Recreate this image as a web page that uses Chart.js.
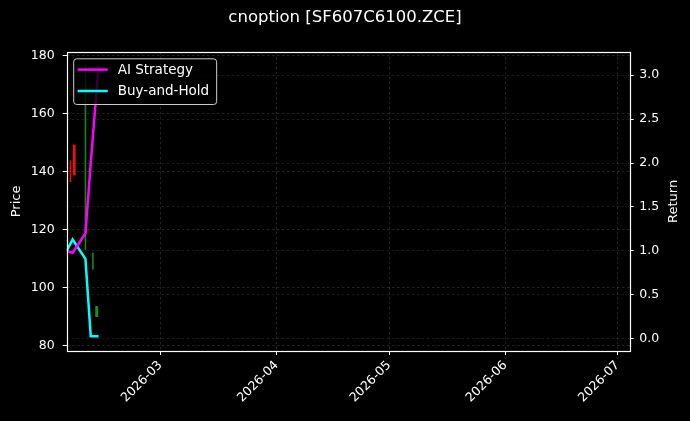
<!DOCTYPE html>
<html>
<head>
<meta charset="utf-8">
<script src="https://cdn.jsdelivr.net/npm/chart.js@4.4.1/dist/chart.umd.min.js"></script>
<style>
html, body { margin: 0; padding: 0; background: #000; }
#wrap { width: 690px; height: 421px; }
</style>
</head>
<body>
<div id="wrap"><canvas id="c" width="690" height="421"></canvas></div>
<script>
// ---- data ----
const titleText = 'cnoption [SF607C6100.ZCE]';
const seriesNames = ['AI Strategy', 'Buy-and-Hold'];
const lineDates = ['2026-02-04T00:00Z', '2026-02-05T14:00Z', '2026-02-09T00:00Z', '2026-02-10T10:00Z', '2026-02-12T12:00Z'];
const aiStrategy = [1.0, 0.98, 1.2, 2.0, 3.11];
const buyAndHold = [1.0, 1.13, 0.91, 0.03, 0.03];

const candleDates = ['2026-02-05T00:00Z', '2026-02-06T00:00Z', '2026-02-09T00:00Z', '2026-02-11T00:00Z', '2026-02-12T00:00Z'];
const candleLow  = [136.6, 138.9, 113.0, 106.3, 90.0];
const candleHigh = [143.8, 149.2, 176.7, 112.0, 93.6];
const bodyLow    = [null, 138.9, null, null, 90.0];
const bodyHigh   = [null, 149.2, null, null, 93.6];
const candleUp   = [false, false, true, true, true];

const monthTicks = ['2026-03-01T00:00Z', '2026-04-01T00:00Z', '2026-05-01T00:00Z', '2026-06-01T00:00Z', '2026-07-01T00:00Z'];
const xRange = ['2026-02-04T00:00Z', '2026-07-04T05:00Z'];
const priceRange = [78.17, 181.38];
const returnRange = [-0.139, 3.266];
const priceStep = 20;
const returnStep = 0.5;
const axisNames = ['Price', 'Return'];

// ---- build chart ----
const ms = s => Date.parse(s);
const RED = 'rgba(235,20,20,0.9)';
const GREEN = 'rgba(30,150,30,0.85)';
const GRID = 'rgba(150,150,150,0.4)';
const FONT = 'DejaVu Sans';

Chart.defaults.font.family = FONT;
Chart.defaults.color = '#fff';

const bgPlugin = {
  id: 'bg',
  beforeDraw(chart) {
    const ctx = chart.ctx;
    ctx.save();
    ctx.fillStyle = '#000';
    ctx.fillRect(0, 0, chart.width, chart.height);
    ctx.restore();
  }
};

const overlayPlugin = {
  id: 'overlay',
  afterDatasetsDraw(chart) {
    const ctx = chart.ctx;
    const a = chart.chartArea;
    ctx.save();
    ctx.font = '13.5px "' + FONT + '"';
    const items = chart.data.datasets.filter(d => d.type === 'line');
    const textW = Math.max(...items.map(d => ctx.measureText(d.label).width));
    const bx = a.left + 6.5, by = a.top + 6.5;
    const lineLen = 30, rowH = 21.4;
    const bw = 4.5 + lineLen + 10 + textW + 7;
    const bh = 45.7;
    ctx.beginPath();
    if (ctx.roundRect) ctx.roundRect(bx + 0.5, by + 0.5, bw, bh, 3); else ctx.rect(bx + 0.5, by + 0.5, bw, bh);
    ctx.fillStyle = 'rgba(0,0,0,0.8)';
    ctx.fill();
    ctx.strokeStyle = '#cccccc';
    ctx.lineWidth = 1;
    ctx.stroke();
    items.forEach((d, i) => {
      const y = by + 11.3 + i * rowH;
      ctx.beginPath();
      ctx.moveTo(bx + 4.5, y);
      ctx.lineTo(bx + 4.5 + lineLen, y);
      ctx.strokeStyle = d.borderColor;
      ctx.lineWidth = 2.5;
      ctx.stroke();
      ctx.fillStyle = '#fff';
      ctx.textBaseline = 'middle';
      ctx.textAlign = 'left';
      ctx.fillText(d.label, bx + 4.5 + lineLen + 10, y + 0.5);
    });
    ctx.restore();
  },
  afterDraw(chart) {
    const ctx = chart.ctx;
    const a = chart.chartArea;
    ctx.save();
    ctx.strokeStyle = '#fff';
    ctx.lineWidth = 1.2;
    ctx.strokeRect(Math.round(a.left) + 0.5, Math.round(a.top) + 0.5, Math.round(a.right - a.left), Math.round(a.bottom - a.top));
    ctx.fillStyle = '#fff';
    ctx.font = '13px "' + FONT + '"';
    ctx.textAlign = 'center';
    ctx.textBaseline = 'middle';
    ctx.translate(673.5, (a.top + a.bottom) / 2);
    ctx.rotate(-Math.PI / 2);
    ctx.fillText(axisNames[1], 0, 0);
    ctx.restore();
  }
};

const lineDs = (label, vals, color) => ({
  type: 'line',
  label: label,
  data: lineDates.map((d, i) => ({ x: ms(d), y: vals[i] })),
  yAxisID: 'yR',
  borderColor: color,
  backgroundColor: color,
  borderWidth: 2.5,
  pointRadius: 0,
  tension: 0,
  fill: false,
  order: 0
});

const wickData = candleDates.map((d, i) => ({ x: ms(d), y: [candleLow[i], candleHigh[i]] }));
const bodyIdx = candleDates.map((d, i) => i).filter(i => bodyLow[i] !== null);
const bodyData = bodyIdx.map(i => ({ x: ms(candleDates[i]), y: [bodyLow[i], bodyHigh[i]] }));

const chart = new Chart(document.getElementById('c'), {
  data: {
    datasets: [
      lineDs(seriesNames[0], aiStrategy, '#ff00ff'),
      lineDs(seriesNames[1], buyAndHold, '#00ffff'),
      {
        type: 'bar', label: 'wick', data: wickData, yAxisID: 'yL',
        backgroundColor: candleUp.map(u => u ? GREEN : RED),
        barThickness: 1, grouped: false, order: 2
      },
      {
        type: 'bar', label: 'body', data: bodyData, yAxisID: 'yL',
        backgroundColor: bodyIdx.map(i => candleUp[i] ? GREEN : RED),
        barThickness: 2.3, grouped: false, order: 1
      }
    ]
  },
  options: {
    responsive: false,
    animation: false,
    layout: { padding: 0 },
    plugins: {
      legend: { display: false },
      tooltip: { enabled: false },
      title: {
        display: true,
        text: titleText,
        color: '#fff',
        font: { family: FONT, size: 16.5, weight: 'normal' },
        padding: { top: 8, bottom: 24 }
      }
    },
    scales: {
      x: {
        type: 'linear',
        position: 'bottom',
        offset: false,
        min: ms(xRange[0]),
        max: ms(xRange[1]),
        afterBuildTicks: s => { s.ticks = monthTicks.map(m => ({ value: ms(m) })); },
        afterFit: s => { s.height = 70; },
        ticks: {
          color: '#fff',
          font: { family: FONT, size: 12.5 },
          maxRotation: 45, minRotation: 45,
          autoSkip: false,
          padding: 3,
          callback: v => new Date(v).toISOString().slice(0, 7)
        },
        grid: { offset: false, color: GRID, lineWidth: 0.6, tickColor: '#fff', tickLength: 4, tickWidth: 1 },
        border: { display: false, dash: [2.5, 2.5] }
      },
      yL: {
        type: 'linear',
        position: 'left',
        min: priceRange[0],
        max: priceRange[1],
        afterFit: s => { s.width = 66.7; },
        ticks: {
          stepSize: priceStep, includeBounds: false,
          color: '#fff', font: { family: FONT, size: 12.5 }, padding: 8,
          callback: v => String(Math.round(v))
        },
        title: { display: true, text: axisNames[0], color: '#fff', font: { family: FONT, size: 13 }, padding: { top: 9, bottom: 0 } },
        grid: { color: GRID, lineWidth: 0.6, tickColor: '#fff', tickLength: 4, tickWidth: 1 },
        border: { display: false, dash: [2.5, 2.5] }
      },
      yR: {
        type: 'linear',
        position: 'right',
        min: returnRange[0],
        max: returnRange[1],
        afterFit: s => { s.width = 60.3; },
        ticks: {
          stepSize: returnStep, includeBounds: false,
          color: '#fff', font: { family: FONT, size: 12.5 }, padding: 5.5,
          callback: v => v.toFixed(1)
        },
        grid: { color: 'rgba(150,150,150,0.3)', lineWidth: 0.6, tickColor: '#fff', tickLength: 4, tickWidth: 1 },
        border: { display: false, dash: [2.5, 2.5] }
      }
    }
  },
  plugins: [bgPlugin, overlayPlugin]
});
</script>
</body>
</html>
